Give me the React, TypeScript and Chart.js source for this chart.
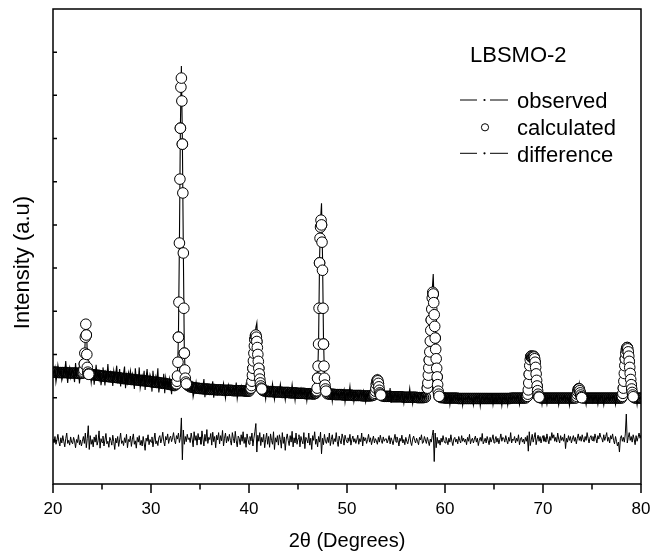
import { useEffect, useRef } from 'react';
import { Chart, registerables } from 'chart.js';

Chart.register(...registerables);

const FONT = "'Liberation Sans', Arial, Helvetica, sans-serif";

// 2θ grid of the scan (degrees)
const SCAN_START = 20;
const SCAN_STEP = 0.1;

// observed intensity, one row per degree (x.0 … x.9)
const observed = [
  262, 255, 268, 236, 251, 275, 260, 254, 263, 240, // 20
  249, 266, 259, 285, 256, 234, 261, 270, 247, 258, // 21
  263, 254, 236, 280, 252, 257, 266, 233, 259, 271, // 22
  255, 262, 282, 342, 372, 300, 262, 250, 258, 235, // 23
  255, 261, 230, 252, 276, 250, 258, 243, 262, 229, // 24
  247, 270, 252, 228, 258, 249, 278, 246, 253, 260, // 25
  251, 227, 262, 247, 255, 274, 240, 250, 266, 226, // 26
  248, 239, 256, 272, 222, 251, 236, 258, 247, 262, // 27
  240, 255, 246, 220, 268, 243, 249, 238, 270, 223, // 28
  237, 251, 243, 262, 218, 246, 266, 240, 235, 253, // 29
  244, 214, 262, 238, 229, 249, 240, 268, 212, 231, // 30
  241, 236, 228, 255, 210, 246, 230, 238, 226, 244, // 31
  229, 208, 236, 231, 222, 238, 235, 255, 345, 560, // 32
  830, 968, 800, 540, 310, 250, 232, 224, 219, 228, // 33
  222, 217, 230, 202, 213, 221, 236, 219, 226, 215, // 34
  220, 229, 214, 224, 243, 201, 222, 211, 227, 219, // 35
  224, 216, 221, 238, 200, 219, 226, 217, 209, 223, // 36
  217, 225, 214, 220, 233, 216, 199, 222, 218, 229, // 37
  215, 221, 212, 219, 224, 210, 218, 235, 198, 213, // 38
  219, 214, 226, 211, 217, 222, 215, 230, 213, 218, // 39
  216, 221, 225, 240, 265, 302, 337, 362, 373, 322, // 40
  272, 246, 229, 221, 212, 218, 214, 197, 220, 215, // 41
  213, 219, 210, 216, 232, 212, 196, 217, 214, 221, // 42
  211, 216, 231, 213, 209, 218, 212, 195, 215, 219, // 43
  214, 208, 217, 212, 230, 210, 214, 194, 216, 211, // 44
  209, 215, 211, 220, 206, 213, 208, 217, 212, 193, // 45
  213, 209, 216, 207, 210, 222, 211, 206, 215, 218, // 46
  245, 330, 520, 610, 650, 530, 340, 250, 222, 212, // 47
  207, 213, 204, 210, 216, 192, 211, 203, 209, 214, // 48
  206, 211, 201, 208, 214, 205, 209, 218, 190, 207, // 49
  210, 203, 208, 226, 202, 206, 211, 191, 207, 212, // 50
  204, 209, 200, 207, 213, 203, 208, 216, 202, 190, // 51
  207, 201, 210, 204, 198, 208, 203, 224, 209, 216, // 52
  232, 248, 233, 218, 207, 203, 208, 201, 206, 210, // 53
  202, 207, 199, 204, 222, 188, 206, 197, 203, 209, // 54
  205, 199, 208, 202, 196, 204, 210, 201, 187, 206, // 55
  200, 207, 197, 203, 221, 199, 204, 186, 202, 208, // 56
  204, 198, 206, 200, 195, 203, 209, 199, 204, 197, // 57
  203, 208, 222, 256, 290, 338, 385, 450, 486, 405, // 58
  342, 292, 250, 222, 206, 199, 204, 196, 202, 198, // 59
  197, 203, 194, 200, 206, 184, 201, 192, 199, 204, // 60
  201, 195, 199, 205, 193, 200, 196, 203, 182, 198, // 61
  196, 202, 198, 193, 204, 199, 195, 201, 197, 183, // 62
  200, 196, 203, 194, 199, 205, 181, 198, 202, 196, // 63
  194, 201, 197, 203, 195, 199, 193, 200, 206, 184, // 64
  199, 195, 202, 190, 198, 204, 196, 200, 182, 201, // 65
  197, 203, 195, 199, 183, 201, 198, 205, 196, 199, // 66
  202, 196, 200, 194, 203, 198, 184, 201, 197, 204, // 67
  199, 196, 201, 204, 210, 222, 256, 290, 300, 297, // 68
  299, 296, 284, 257, 230, 210, 202, 197, 201, 184, // 69
  200, 196, 203, 198, 185, 201, 197, 204, 199, 194, // 70
  198, 202, 195, 200, 206, 197, 183, 201, 198, 203, // 71
  196, 200, 204, 193, 199, 202, 197, 182, 200, 205, // 72
  198, 201, 196, 202, 203, 209, 218, 233, 214, 206, // 73
  201, 197, 203, 199, 184, 201, 205, 196, 200, 203, // 74
  198, 193, 201, 197, 204, 199, 185, 202, 196, 200, // 75
  203, 197, 183, 200, 196, 202, 198, 205, 194, 199, // 76
  201, 196, 203, 199, 184, 200, 197, 204, 198, 195, // 77
  201, 206, 218, 250, 285, 308, 320, 314, 290, 260, // 78
  236, 218, 207, 202, 196, 201, 184, 203, 197, 200, // 79
  199, // 80
];

// difference (observed − calculated, shifted), same grid
const difference = [
  104, 96, 110, 92, 101, 115, 98, 88, 107, 95, // 20
  112, 99, 86, 105, 118, 94, 101, 90, 109, 97, // 21
  93, 108, 100, 84, 103, 96, 114, 91, 102, 88, // 22
  99, 110, 94, 118, 84, 106, 135, 80, 112, 92, // 23
  103, 86, 109, 97, 114, 90, 100, 123, 83, 105, // 24
  96, 111, 88, 102, 117, 93, 99, 85, 108, 101, // 25
  90, 113, 98, 80, 106, 95, 110, 87, 102, 118, // 26
  94, 100, 89, 107, 96, 115, 84, 103, 98, 111, // 27
  87, 104, 116, 92, 100, 83, 108, 97, 112, 90, // 28
  101, 88, 110, 95, 78, 106, 99, 114, 91, 103, // 29
  97, 109, 86, 102, 118, 93, 100, 89, 107, 112, // 30
  95, 104, 120, 99, 88, 110, 102, 116, 94, 106, // 31
  111, 98, 107, 119, 101, 93, 112, 104, 118, 96, // 32
  108, 153, 56, 125, 92, 110, 98, 115, 103, 107, // 33
  96, 118, 104, 86, 121, 101, 112, 90, 117, 102, // 34
  109, 92, 123, 104, 88, 115, 99, 126, 94, 108, // 35
  103, 117, 90, 120, 98, 110, 84, 113, 102, 119, // 36
  93, 112, 100, 124, 88, 106, 118, 95, 110, 99, // 37
  115, 101, 90, 119, 106, 95, 122, 100, 86, 111, // 38
  106, 91, 114, 99, 121, 94, 108, 85, 116, 103, // 39
  92, 110, 100, 118, 88, 106, 121, 140, 74, 113, // 40
  99, 119, 89, 108, 97, 115, 84, 103, 118, 92, // 41
  110, 85, 116, 101, 92, 121, 80, 107, 97, 112, // 42
  90, 114, 103, 83, 119, 94, 109, 78, 104, 116, // 43
  101, 89, 112, 97, 122, 86, 107, 95, 118, 92, // 44
  105, 114, 86, 110, 100, 93, 119, 82, 108, 103, // 45
  95, 118, 90, 106, 80, 112, 101, 121, 92, 104, // 46
  86, 110, 97, 120, 70, 106, 91, 115, 99, 94, // 47
  108, 96, 118, 89, 103, 114, 92, 105, 98, 119, // 48
  99, 87, 111, 101, 93, 116, 106, 90, 113, 103, // 49
  96, 107, 99, 115, 90, 103, 111, 97, 105, 94, // 50
  102, 113, 92, 105, 98, 118, 88, 109, 100, 107, // 51
  94, 103, 115, 97, 107, 91, 102, 111, 95, 105, // 52
  100, 92, 108, 97, 113, 101, 94, 109, 99, 104, // 53
  105, 95, 102, 112, 93, 107, 100, 91, 104, 115, // 54
  97, 109, 101, 88, 106, 99, 113, 95, 103, 91, // 55
  108, 99, 93, 105, 115, 97, 89, 104, 111, 101, // 56
  95, 106, 99, 91, 108, 102, 114, 94, 97, 110, // 57
  102, 94, 108, 99, 89, 104, 97, 112, 125, 52, // 58
  118, 84, 108, 94, 102, 90, 106, 97, 112, 100, // 59
  95, 108, 101, 91, 106, 97, 114, 99, 89, 104, // 60
  108, 97, 104, 93, 110, 101, 95, 112, 99, 106, // 61
  97, 104, 91, 108, 99, 115, 93, 102, 106, 95, // 62
  104, 111, 97, 106, 89, 101, 108, 99, 117, 93, // 63
  99, 106, 95, 110, 101, 91, 108, 97, 104, 114, // 64
  95, 102, 110, 97, 106, 93, 104, 116, 99, 108, // 65
  106, 97, 112, 101, 93, 108, 99, 119, 95, 104, // 66
  101, 110, 95, 106, 99, 114, 91, 104, 108, 97, // 67
  104, 93, 108, 99, 112, 76, 121, 89, 102, 115, // 68
  97, 108, 119, 91, 104, 113, 99, 110, 95, 106, // 69
  112, 99, 108, 97, 116, 103, 93, 110, 101, 119, // 70
  106, 114, 99, 108, 97, 118, 104, 95, 112, 101, // 71
  108, 99, 116, 82, 106, 97, 112, 101, 110, 95, // 72
  104, 112, 99, 108, 93, 106, 116, 101, 110, 99, // 73
  114, 103, 97, 110, 101, 119, 106, 95, 108, 112, // 74
  101, 110, 99, 116, 106, 95, 112, 104, 118, 108, // 75
  106, 97, 114, 101, 110, 119, 99, 108, 95, 112, // 76
  104, 116, 101, 93, 110, 99, 88, 97, 74, 106, // 77
  112, 99, 108, 97, 116, 162, 95, 108, 119, 101, // 78
  110, 97, 114, 104, 91, 112, 99, 108, 118, 106, // 79
  114, // 80
];

// calculated profile, coarse grid (x.0, x.2, x.4, x.6, x.8)
const CALC_START = 20;
const CALC_STEP = 0.2;
const calculated = [
  259, 259, 259, 258, 258, // 20
  258, 258, 258, 257, 257, // 21
  257, 257, 257, 256, 256, // 22
  257, 278, 345, 259, 255, // 23
  253, 253, 252, 252, 251, // 24
  250, 250, 249, 249, 248, // 25
  248, 247, 247, 246, 246, // 26
  245, 244, 244, 243, 243, // 27
  242, 242, 241, 241, 240, // 28
  240, 239, 239, 238, 238, // 29
  237, 236, 236, 235, 235, // 30
  234, 233, 233, 232, 231, // 31
  230, 229, 228, 232, 340, // 32
  824, 787, 303, 232, 228, // 33
  225, 224, 223, 222, 222, // 34
  221, 221, 220, 220, 220, // 35
  219, 219, 219, 218, 218, // 36
  218, 218, 217, 217, 217, // 37
  217, 217, 216, 216, 216, // 38
  216, 216, 216, 215, 215, // 39
  215, 222, 268, 335, 330, // 40
  268, 227, 217, 215, 215, // 41
  214, 214, 214, 213, 213, // 42
  213, 213, 212, 212, 212, // 43
  212, 211, 211, 211, 211, // 44
  210, 210, 210, 210, 209, // 45
  209, 209, 209, 208, 210, // 46
  245, 512, 600, 324, 220, // 47
  209, 208, 208, 208, 207, // 48
  207, 207, 207, 206, 206, // 49
  206, 206, 206, 205, 205, // 50
  205, 205, 205, 204, 204, // 51
  204, 204, 204, 205, 207, // 52
  231, 233, 208, 204, 203, // 53
  203, 203, 203, 202, 202, // 54
  202, 202, 202, 202, 201, // 55
  201, 201, 201, 201, 201, // 56
  201, 200, 200, 200, 200, // 57
  201, 222, 287, 380, 440, // 58
  338, 248, 203, 200, 200, // 59
  199, 199, 199, 199, 199, // 60
  199, 199, 198, 198, 198, // 61
  198, 198, 198, 198, 198, // 62
  198, 198, 198, 198, 198, // 63
  198, 198, 198, 198, 198, // 64
  198, 198, 198, 198, 198, // 65
  198, 198, 198, 198, 199, // 66
  199, 199, 199, 199, 199, // 67
  199, 199, 203, 254, 296, // 68
  295, 282, 227, 201, 199, // 69
  199, 199, 199, 199, 199, // 70
  199, 199, 199, 199, 199, // 71
  199, 199, 199, 199, 199, // 72
  199, 199, 200, 219, 211, // 73
  200, 199, 199, 199, 199, // 74
  199, 199, 199, 199, 199, // 75
  199, 199, 199, 199, 199, // 76
  199, 199, 199, 199, 199, // 77
  199, 222, 290, 316, 284, // 78
  230, 202, 199, 199, 199, // 79
  199, // 80
];

// calculated profile around each reflection, fine grid
const PEAK_STEP = 0.05;
const peakStarts = [23.0, 32.6, 40.2, 46.9, 52.8, 58.2, 68.4, 73.4, 78.1];
const peak23 = [257, 258, 260, 264, 278, 303, 340, 370, 345, 300, 270, 259, 255, 254];
const peak33 = [232, 238, 250, 282, 340, 421, 558, 706, 824, 919, 940, 887, 787, 674, 535, 407, 303, 264, 245, 236, 232];
const peak41 = [222, 228, 238, 252, 268, 285, 303, 320, 335, 343, 345, 340, 330, 316, 300, 284, 268, 255, 243, 234, 227, 222, 220];
const peak47 = [216, 222, 245, 273, 324, 407, 512, 569, 595, 611, 600, 560, 495, 407, 324, 273, 245, 229, 220, 215];
const peak53 = [207, 210, 215, 222, 231, 238, 241, 239, 233, 225, 217, 211, 208, 206];
const peak59 = [222, 234, 252, 269, 287, 306, 331, 356, 380, 405, 431, 444, 440, 420, 392, 365, 338, 312, 290, 268, 248, 230, 215, 208, 203];
const peak69 = [203, 208, 218, 234, 254, 274, 288, 295, 296, 294, 292, 293, 295, 296, 294, 290, 282, 270, 255, 240, 227, 216, 208, 203, 201];
const peak74 = [200, 203, 208, 214, 219, 221, 220, 216, 211, 206, 202, 200];
const peak79 = [203, 210, 222, 238, 256, 274, 290, 303, 311, 315, 316, 313, 306, 296, 284, 270, 256, 242, 230, 220, 212, 206, 202];
const peakProfiles = [peak23, peak33, peak41, peak47, peak53, peak59, peak69, peak74, peak79];

// axes
const X_MIN = 20;
const X_MAX = 80;
const X_MAJOR = [20, 30, 40, 50, 60, 70, 80];
const X_MINOR = [25, 35, 45, 55, 65, 75];
const Y_MIN = 0;
const Y_MAX = 1100;
const Y_TICKS = [100, 200, 300, 400, 500, 600, 700, 800, 900, 1000];

const SAMPLE_LABEL = 'LBSMO-2';
const LEGEND_LABELS = ['observed', 'calculated', 'difference'];
const X_TITLE = '2θ (Degrees)';
const Y_TITLE = 'Intensity (a.u)';

const onGrid = (values: number[], start: number, step: number) =>
  values.map((y, i) => ({ x: Math.round((start + i * step) * 1000) / 1000, y }));

const decorPlugin = {
  id: 'decor',
  afterDraw(chart: any) {
    const { ctx, chartArea } = chart;
    const xs = chart.scales.x;
    const ys = chart.scales.y;
    const { left, right, top, bottom } = chartArea;
    ctx.save();
    ctx.strokeStyle = '#000';
    ctx.fillStyle = '#000';
    ctx.lineWidth = 1.5;
    ctx.strokeRect(left, top, right - left, bottom - top);
    ctx.beginPath();
    X_MAJOR.forEach((v) => {
      const px = xs.getPixelForValue(v);
      ctx.moveTo(px, bottom);
      ctx.lineTo(px, bottom + 9);
    });
    X_MINOR.forEach((v) => {
      const px = xs.getPixelForValue(v);
      ctx.moveTo(px, bottom);
      ctx.lineTo(px, bottom + 5.5);
    });
    Y_TICKS.forEach((v) => {
      const py = ys.getPixelForValue(v);
      ctx.moveTo(left, py);
      ctx.lineTo(left + 4, py);
    });
    ctx.stroke();

    // y title
    ctx.save();
    ctx.translate(23, 262.5);
    ctx.rotate(-Math.PI / 2);
    ctx.font = `22px ${FONT}`;
    ctx.textAlign = 'center';
    ctx.textBaseline = 'middle';
    ctx.fillText(Y_TITLE, 0, 0);
    ctx.restore();

    // legend
    ctx.font = `22px ${FONT}`;
    ctx.textAlign = 'left';
    ctx.textBaseline = 'alphabetic';
    ctx.fillText(SAMPLE_LABEL, 470, 62);
    const rows = [108, 135, 162];
    const symY = [100, 127.3, 153.3];
    LEGEND_LABELS.forEach((t, i) => {
      ctx.fillText(t, 517, rows[i]);
    });
    ctx.lineWidth = 1;
    [0, 2].forEach((i) => {
      const y = symY[i];
      ctx.beginPath();
      ctx.moveTo(460, y);
      ctx.lineTo(477, y);
      ctx.moveTo(490, y);
      ctx.lineTo(508, y);
      ctx.stroke();
      ctx.beginPath();
      ctx.arc(484.5, y, 1.1, 0, Math.PI * 2);
      ctx.fill();
    });
    ctx.beginPath();
    ctx.arc(485, symY[1], 3.6, 0, Math.PI * 2);
    ctx.fillStyle = '#fff';
    ctx.fill();
    ctx.stroke();
    ctx.restore();
  },
};

export default function App() {
  const ref = useRef<HTMLCanvasElement>(null);
  useEffect(() => {
    if (!ref.current) return;
    Chart.defaults.font.family = FONT;
    const peakPoints = peakProfiles.flatMap((p, k) => onGrid(p, peakStarts[k], PEAK_STEP));
    const chart = new Chart(ref.current, {
      type: 'scatter',
      data: {
        datasets: [
          {
            label: 'calculated (peaks)',
            data: peakPoints,
            showLine: false,
            pointRadius: 5.3,
            pointBackgroundColor: '#fff',
            pointBorderColor: '#000',
            pointBorderWidth: 1,
            order: 0,
          },
          {
            label: 'observed',
            data: onGrid(observed, SCAN_START, SCAN_STEP),
            showLine: true,
            borderColor: '#000',
            borderWidth: 1.1,
            pointRadius: 0,
            order: 1,
          },
          {
            label: 'calculated',
            data: onGrid(calculated, CALC_START, CALC_STEP),
            showLine: false,
            pointRadius: 5.3,
            pointBackgroundColor: 'rgba(0,0,0,0.3)',
            pointBorderColor: '#000',
            pointBorderWidth: 1,
            order: 2,
          },
          {
            label: 'difference',
            data: onGrid(difference, SCAN_START, SCAN_STEP),
            showLine: true,
            borderColor: '#000',
            borderWidth: 1,
            pointRadius: 0,
            order: 3,
          },
        ] as any,
      },
      options: {
        animation: false,
        responsive: false,
        events: [],
        layout: { padding: { top: 9, right: 12, left: 0, bottom: 0 } },
        plugins: { legend: { display: false }, tooltip: { enabled: false } },
        elements: { line: { tension: 0 } },
        scales: {
          x: {
            type: 'linear',
            min: X_MIN,
            max: X_MAX,
            grid: { display: false, drawTicks: false },
            border: { display: false },
            ticks: { stepSize: 10, padding: 15, color: '#000', font: { size: 17, family: FONT } },
            title: { display: true, text: X_TITLE, color: '#000', font: { size: 20, family: FONT }, padding: { top: 0, bottom: 2 } },
            afterFit: (s: any) => { s.height = 71; s.paddingLeft = 0; s.paddingRight = 0; },
          },
          y: {
            min: Y_MIN,
            max: Y_MAX,
            grid: { display: false, drawTicks: false },
            border: { display: false },
            ticks: { display: false, stepSize: 100 },
            afterFit: (s: any) => { s.width = 53; s.paddingTop = 0; s.paddingBottom = 0; },
          },
        },
      } as any,
      plugins: [decorPlugin],
    });
    return () => chart.destroy();
  }, []);
  return (
    <div style={{ position: 'absolute', left: 0, top: 0, width: 653, height: 555, background: '#fff' }}>
      <canvas ref={ref} width={653} height={555} style={{ width: 653, height: 555, display: 'block' }} />
    </div>
  );
}
